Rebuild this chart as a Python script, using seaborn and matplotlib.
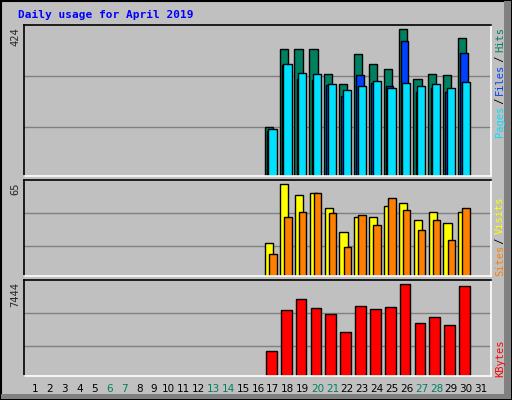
import matplotlib
matplotlib.use("Agg")
import matplotlib.pyplot as plt
import seaborn as sns
import numpy as np

sns.set_style("white")
plt.rcParams['font.family'] = ['DejaVu Sans']

days = list(range(17, 31))
hits = [141, 366, 366, 366, 294, 265, 352, 323, 308, 424, 279, 294, 291, 398]
files = [129, 321, 279, 276, 262, 230, 291, 268, 259, 389, 242, 253, 242, 355]
pages = [135, 323, 297, 294, 265, 248, 259, 274, 253, 268, 259, 265, 253, 271]
sites = [23.3, 65, 57, 59, 48, 31, 42, 42, 49.5, 51.5, 39.6, 45, 37.5, 45]
visits = [15.5, 42, 45, 59, 44.5, 20.5, 43, 36, 55, 46.5, 32.5, 39.6, 25.5, 48]
kbytes = [1983, 5325, 6221, 5488, 5000, 3531, 5651, 5407, 5570, 7444, 4266, 4755, 4103, 7281]
weekends = [6, 7, 13, 14, 20, 21, 27, 28]

BG = "#C0C0C0"
fig = plt.figure(figsize=(5.12, 4.0), dpi=100, facecolor=BG)
d = np.array(days) - 0.2

def mkax(bottom, height, ymax, grids):
    ax = fig.add_axes([0.047, bottom, 0.912, height], facecolor=BG)
    ax.set_xlim(0.26, 31.67)
    ax.set_ylim(0, ymax)
    for g in grids:
        ax.axhline(g, color="#808080", lw=1, zorder=0)
    ax.set_xticks([]); ax.set_yticks([])
    for s in ("left", "top"):
        ax.spines[s].set_color("black")
    for s in ("right", "bottom"):
        ax.spines[s].set_color("white")
    for s in ax.spines.values():
        s.set_linewidth(1.2)
    return ax

kw = dict(align="edge", edgecolor="black", linewidth=1)
ax1 = mkax(0.56, 0.3775, 436, [289, 141.6])
ax1.bar(d - 0.35, hits, 0.55, color="#008060", **kw)
ax1.bar(d - 0.2, files, 0.5, color="#0040FF", **kw)
ax1.bar(d - 0.1, pages, 0.55, color="#00E0FF", **kw)

ax2 = mkax(0.309, 0.241, 67.8, [44.5, 21.2])
ax2.bar(d - 0.33, sites, 0.55, color="#FFFF00", **kw)
ax2.bar(d - 0.05, visits, 0.5, color="#FF8000", **kw)

ax3 = mkax(0.0607, 0.239, 7778, [5080, 2390])
ax3.bar(d - 0.27, kbytes, 0.72, color="#FF0000", **kw)

fig.text(18/512, 1 - 15/400, "Daily usage for April 2019", color="#0000FF",
         family="DejaVu Sans Mono", fontweight="bold", fontsize=8, va="center")

for y, t in [(27, "424"), (182, "65"), (282, "7444")]:
    fig.text(15/512, 1 - y/400, t, rotation=90, ha="center", va="top",
             fontsize=7.5, family="DejaVu Sans Mono")

def right_label(ybot, parts):
    cw = 5.3
    pos = 0
    for txt, col in parts:
        fig.text(500/512, 1 - (ybot - pos*cw)/400, txt, rotation=90, ha="center",
                 va="bottom", color=col, family="DejaVu Sans Mono", fontsize=7.5)
        pos += len(txt)

right_label(137, [("Pages", "#00E0FF"), (" / ", "black"), ("Files", "#0040FF"),
                  (" / ", "black"), ("Hits", "#008060")])
right_label(276, [("Sites", "#FF8000"), (" / ", "black"), ("Visits", "#FFFF00")])
right_label(377, [("KBytes", "#FF0000")])

for i in range(1, 32):
    x = 0.047 + 0.912 * (i - 0.26) / (31.67 - 0.26)
    fig.text(x, 1 - 389/400, str(i), ha="center", va="center", fontsize=7.5,
             color="#008060" if i in weekends else "black")

fig.patches.append(plt.Rectangle((0.002, 0.003), 0.996, 0.994, transform=fig.transFigure,
                                 fill=False, edgecolor="black", lw=1.5))
fig.patches.append(plt.Rectangle((0.985, 0.003), 0.013, 0.994, transform=fig.transFigure,
                                 facecolor="#808080", edgecolor="none"))
fig.patches.append(plt.Rectangle((0.002, 0.003), 0.996, 0.012, transform=fig.transFigure,
                                 facecolor="#808080", edgecolor="none"))

fig.savefig("out.png", dpi=100, facecolor=BG)
